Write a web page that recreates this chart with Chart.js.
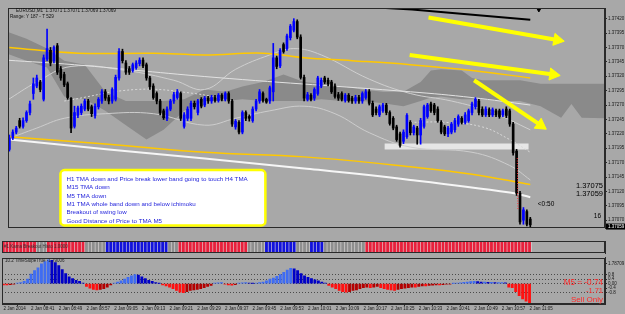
<!DOCTYPE html>
<html>
<head>
<meta charset="utf-8">
<script src="https://cdn.jsdelivr.net/npm/chart.js@4.4.1/dist/chart.umd.min.js"></script>
<style>
body { margin: 0; background: #a8a8a8; }
#wrap { position: relative; width: 625px; height: 314px; overflow: hidden; background: #a8a8a8; }
canvas { position: absolute; left: 0; }
</style>
</head>
<body>
<div id="wrap">
  <canvas id="mainChart" width="625" height="236" style="top:0"></canvas>
  <canvas id="stripChart" width="625" height="18" style="top:236px"></canvas>
  <canvas id="slopeChart" width="625" height="60" style="top:254px"></canvas>
</div>
<script>
// EURUSD M1, prices kept as points above 1.37000
const openPts = [193,213,223,243,233,243,257,290,303,310, 280,350,365,347,373,333,323,307,282,233,
  252,257,263,277,267,252,267,277,293,283, 277,280,317,363,343,333,330,335,342,348,
  340,317,303,290,277,260,247,263,277,283, 290,233,247,247,273,257,280,270,282,277,
  283,278,287,280,290,277,232,240,223,257, 250,243,263,277,290,280,277,293,352,338,
  375,368,387,400,415,388,318,280,287,282, 290,303,317,313,310,303,288,290,278,287,
  282,277,283,277,283,293,273,263,253,260, 270,257,247,232,220,207,215,240,222,230,
  218,233,250,272,270,263,240,232,220,223, 227,237,247,240,243,257,267,277,263,253,
  262,253,260,260,253,263,260,237,190,117, 70,85,72];
const highPts = [218,227,233,247,248,260,277,317,322,313, 357,402,370,373,377,337,327,310,283,268,
  268,272,280,280,270,272,283,297,297,287, 300,322,368,367,347,337,343,347,352,352,
  343,320,307,293,280,263,267,280,292,297, 293,257,267,277,277,280,283,285,285,287,
  287,290,290,293,293,280,245,243,260,260, 253,267,280,297,293,282,303,377,355,368,
  378,393,410,420,418,392,322,292,290,300, 320,317,320,317,313,307,292,293,290,290,
  285,287,287,293,297,297,277,267,270,273, 273,260,250,235,223,227,255,243,235,233,
  247,270,273,275,273,267,243,235,233,240, 247,253,250,257,263,275,283,280,267,267,
  265,265,263,263,263,267,263,240,193,120, 92,88,75];
const lowPts = [190,210,220,230,230,240,253,280,300,293, 277,347,338,343,323,313,302,280,222,230,
  248,253,260,260,250,247,263,273,278,272, 273,277,313,343,323,323,327,332,338,335,
  313,297,280,272,253,245,243,260,273,280, 243,230,243,243,263,253,265,267,273,273,
  275,275,277,277,273,233,228,220,220,243, 242,240,260,273,275,273,273,277,333,335,
  360,365,383,397,385,315,277,277,277,278, 287,300,307,303,290,282,278,277,275,275,
  273,273,273,273,280,270,250,253,250,257, 253,235,227,207,197,203,212,218,218,202,
  202,230,247,257,253,240,220,217,215,220, 223,233,237,237,240,253,263,253,250,250,
  250,250,250,247,250,248,233,183,113,63, 63,60,50];
const closePts = [213,223,230,233,243,257,272,307,317,297, 352,368,343,370,327,317,305,283,230,257,
  265,268,277,263,255,268,280,293,282,277, 297,318,363,347,327,327,340,343,348,338,
  317,302,283,277,257,248,263,277,288,293, 247,253,263,273,267,277,268,282,277,283,
  278,287,280,290,277,237,242,223,257,247, 247,263,277,293,278,275,300,352,337,365,
  363,390,407,415,388,318,282,288,280,297, 317,313,310,307,293,285,282,280,287,278,
  277,283,277,290,293,273,253,257,267,270, 257,238,230,210,200,223,252,222,232,218,
  243,267,270,260,257,243,223,220,230,237, 243,250,240,253,260,272,280,257,253,263,
  253,262,253,250,260,252,237,187,117,67, 88,63,62];

// overlay lines: bar index / points
const yellowUpX = [0, 20, 42, 57, 74, 86, 100, 117, 135, 152];
const yellowUpY = [370, 360, 360, 357, 360, 352, 347, 340, 330, 317];
const yellowLowX = [0, 29, 57, 86, 117, 135, 152];
const yellowLowY = [215, 202, 188, 180, 163, 150, 132];
const whiteTmaX = [0, 29, 57, 86, 117, 146, 152];
const whiteTmaY = [210, 193, 177, 160, 140, 118, 110];
const bandUpX = [-1, 19, 60, 117, 135, 152];
const bandUpY = [348, 340, 318, 293, 283, 270];
const bandMidX = [-1, 8, 18, 34, 48, 57, 66, 76, 83, 91, 105, 117, 129, 141, 152];
const bandMidY = [277, 310, 337, 330, 313, 297, 332, 357, 368, 357, 315, 290, 277, 257, 227];
const bandLowX = [-1, 8, 16, 28, 42, 57, 66, 76, 86, 95, 105, 117, 135, 146, 152];
const bandLowY = [210, 230, 247, 255, 255, 235, 247, 260, 268, 255, 222, 197, 188, 165, 140];
const dotsAX = [16, 37, 54, 65];
const dotsAY = [277, 297, 290, 277];
const dotsBX = [117, 127, 138, 146, 152];
const dotsBY = [240, 240, 232, 210, 188];
const cloudX = [-1, 5, 11, 16, 22, 28, 34, 40, 45, 51, 57, 63, 68, 74, 80, 86, 91, 97, 103, 109, 115,
  120, 123, 126, 132, 135, 138, 143, 149, 155, 161, 164, 167, 174];
const spanA = [398, 385, 368, 347, 340, 293, 277, 277, 277, 280, 297, 293, 302, 310, 323, 310, 307, 302, 297, 293, 293,
  310, 330, 332, 330, 317, 313, 313, 313, 307, 307, 307, 307, 307];
const spanB = [360, 347, 335, 285, 280, 260, 235, 210, 227, 260, 277, 277, 280, 277, 277, 277, 280, 277, 277, 273, 268,
  277, 283, 285, 280, 280, 280, 277, 277, 268, 248, 272, 248, 247];
const zoneX = [109.5, 151.5];
const zoneY = [198, 198];
const trendX = [106, 117.5, 152];
const trendY = [440, 436, 418];
const arrow1X = [122.3, 159.9], arrow1Y = [422, 383];
const arrow2X = [116.8, 158.7], arrow2Y = [357, 323];
const arrow3X = [135.6, 155], arrow3Y = [313, 235];
const priceTicks = [420, 395, 370, 345, 320, 295, 270, 245, 220, 195, 170, 145, 120, 95, 70];

const timeTicks = [0, 8, 16, 24, 32, 40, 48, 56, 64, 72, 80, 88, 96, 104, 112, 120, 128, 136, 144, 152];
const timeLabels = ['2 Jan 2014', '2 Jan 08:41', '2 Jan 08:49', '2 Jan 08:57', '2 Jan 09:05', '2 Jan 09:13',
  '2 Jan 09:21', '2 Jan 09:29', '2 Jan 09:37', '2 Jan 09:45', '2 Jan 09:53', '2 Jan 10:01', '2 Jan 10:09',
  '2 Jan 10:17', '2 Jan 10:25', '2 Jan 10:33', '2 Jan 10:41', '2 Jan 10:49', '2 Jan 10:57', '2 Jan 11:05'];

// Kama breakout states, run length: r red, g grey, b blue
const stripRuns = [['r',10],['g',3],['r',11],['g',6],['b',18],['g',3],['r',20],['g',5],['b',9],['g',4],['b',4],['g',12],['r',48]];

const slopeVals = [-0.1,-0.1,-0.08,-0.05, 0.05,0.1,0.2,0.4,0.85,1.15,1.4,1.75,1.95,2.1,
  2.05,1.85,1.6,1.25,0.9,0.6,0.45,0.3,0.2,0.05,
  -0.25,-0.4,-0.5,-0.55,-0.5,-0.45,-0.3,-0.1,0.05,0.15,
  0.25,0.4,0.55,0.7,0.8,0.75,0.6,0.45,0.3,0.2,
  0.1,0.03,-0.1,-0.2,-0.3,-0.45,-0.6,-0.75,-0.8,-0.7,
  -0.6,-0.55,-0.5,-0.45,-0.35,-0.25,-0.15,0.05,0.08,0.1,
  -0.05,-0.1,-0.12,-0.08,0.05,0.08,0.1,0.05,0.03,0.05,
  0.1,0.15,0.25,0.4,0.5,0.65,0.8,1.0,1.2,1.35,
  1.3,1.15,0.9,0.7,0.55,0.45,0.35,0.25,0.15,0.05,
  -0.15,-0.3,-0.45,-0.6,-0.7,-0.75,-0.7,-0.6,-0.55,-0.45,
  -0.35,-0.3,-0.35,-0.3,-0.25,-0.35,-0.45,-0.5,-0.55,-0.6,
  -0.5,-0.45,-0.4,-0.35,-0.3,-0.3,-0.25,-0.2,-0.2,-0.15,
  -0.12,-0.1,-0.1,-0.08,-0.05,-0.03,0.03,0.05,0.08,0.12,
  0.15,0.18,0.2,0.18,0.15,0.15,0.12,0.12,0.1,0.1,
  0.1,0.08,-0.3,-0.35,-0.7,-1.05,-1.35,-1.55,-1.71];
const slopeTicks = [1.78709, 0.8, 0.4, 0, -0.4, -0.8];
const slopeTickLabels = ['1.78709', '0.8', '0.4', '0.00', '-0.4', '-0.8'];
const slopeLevels = [0.8, 0.4, 0, -0.8];

const noteLines = [
  'H1 TMA down and Price break lower band going to touch H4 TMA',
  'M15 TMA down',
  'M5 TMA down',
  'M1 TMA whole band down and below ichimoku',
  'Breakout of swing low',
  'Good Distance of Price to TMA M5'
];

Chart.defaults.font.family = '"Liberation Sans", Arial, sans-serif';
Chart.defaults.animation = false;
Chart.defaults.plugins.legend.display = false;
Chart.defaults.plugins.tooltip.enabled = false;

const axisColor = '#2a2a2a';
const xRange = { type: 'linear', min: -0.4, max: 173.8, offset: false, grid: { offset: false } };
const fixWidth = s => { s.width = 20; };
const pts = (xs, ys) => xs.map((v, k) => ({ x: v, y: ys[k] }));
const fmtPrice = v => (1.37 + v / 100000).toFixed(5);

const framePlugin = {
  id: 'frame',
  afterDraw(chart) {
    const a = chart.chartArea, ctx = chart.ctx;
    ctx.save();
    ctx.strokeStyle = axisColor;
    ctx.lineWidth = 1;
    ctx.strokeRect(Math.round(a.left) + 0.5, Math.round(a.top) + 0.5,
      Math.round(a.right - a.left) - 1, Math.round(a.bottom - a.top) - 1);
    ctx.restore();
  }
};

const mainNotes = {
  id: 'mainNotes',
  afterDraw(chart) {
    const { ctx, chartArea: a, scales: { x, y } } = chart;
    ctx.save();
    ctx.textBaseline = 'middle';
    ctx.fillStyle = '#111';
    ctx.font = '4.6px "Liberation Sans"';
    ctx.fillText('EURUSD,M1  1.37071 1.37071 1.37069 1.37069', a.left + 8, a.top + 2.5);
    ctx.fillText('Range: Y 187 - T 529', a.left + 2, a.top + 8.5);

    const left = x.getPixelForValue(14.9), right = x.getPixelForValue(74.7);
    const top = y.getPixelForValue(157), bottom = y.getPixelForValue(61);
    ctx.beginPath();
    ctx.roundRect(left, top, right - left, bottom - top, 4);
    ctx.fillStyle = '#ffffff';
    ctx.fill();
    ctx.lineWidth = 2.5;
    ctx.strokeStyle = '#ffff00';
    ctx.stroke();
    ctx.font = '6.2px "Liberation Sans"';
    ctx.fillStyle = '#2626dc';
    noteLines.forEach((t, k) => ctx.fillText(t, left + 6, top + 9 + k * 8.4));

    ctx.fillStyle = '#000';
    ctx.font = '7.5px "Liberation Sans"';
    ctx.textAlign = 'right';
    ctx.fillText('1.37075', a.right - 2, 186);
    ctx.fillText('1.37059', a.right - 2, 193.5);
    ctx.font = '6.5px "Liberation Sans"';
    ctx.fillText('16', a.right - 4, 216);
    ctx.textAlign = 'left';
    ctx.fillText('<0:50', x.getPixelForValue(154.2), 204);

    // bid marker on the price axis
    const py = y.getPixelForValue(59);
    ctx.fillStyle = '#000';
    ctx.fillRect(a.right + 1, py - 3, 625 - a.right - 1, 6);
    ctx.fillStyle = '#fff';
    ctx.font = '4.5px "Liberation Sans"';
    ctx.fillText('1.37059', a.right + 3, py);
    ctx.restore();
  }
};

const candleColor = k => closePts[k] >= openPts[k] ? '#0000ff' : '#000000';
const lineSet = (xs, ys, color, width, order, extra) => Object.assign({
  type: 'line', data: pts(xs, ys), borderColor: color, borderWidth: width,
  pointRadius: 0, tension: 0.4, order: order
}, extra || {});
const arrowSet = (xs, ys, rot) => ({
  type: 'line', data: pts(xs, ys), borderColor: '#ffff00', borderWidth: 4,
  pointRadius: [0, 7], pointStyle: 'triangle', rotation: [0, rot],
  pointBackgroundColor: '#ffff00', pointBorderColor: '#ffff00', pointBorderWidth: 1, order: 1
});

new Chart(document.getElementById('mainChart'), {
  type: 'bar',
  data: {
    datasets: [
      lineSet(cloudX, spanA, 'rgba(0,0,0,0)', 0, 20, { tension: 0, fill: '+1', backgroundColor: '#8a8a8a' }),
      lineSet(cloudX, spanB, 'rgba(0,0,0,0)', 0, 19, { tension: 0 }),
      lineSet(zoneX, zoneY, 'rgba(236,236,236,0.9)', 6, 18, { tension: 0, borderCapStyle: 'butt' }),
      lineSet(bandUpX, bandUpY, '#e2e2e2', 1, 15),
      lineSet(bandMidX, bandMidY, '#cfcfcf', 1, 15),
      lineSet(bandLowX, bandLowY, '#cdcdcd', 1, 15),
      lineSet(dotsAX, dotsAY, '#d8d8d8', 1, 15, { borderDash: [2, 2] }),
      lineSet(dotsBX, dotsBY, '#d8d8d8', 1, 15, { borderDash: [2, 2] }),
      lineSet(yellowUpX, yellowUpY, '#ffc800', 1.5, 12),
      lineSet(yellowLowX, yellowLowY, '#ffc800', 1.5, 12),
      lineSet(whiteTmaX, whiteTmaY, '#f6f6f6', 2, 12),
      {
        data: openPts.map((o, k) => ({ x: k, y: [lowPts[k], highPts[k]] })),
        backgroundColor: openPts.map((o, k) => candleColor(k)),
        barThickness: 1, grouped: false, order: 5
      },
      {
        data: openPts.map((o, k) => ({ x: k, y: [o, closePts[k]] })),
        backgroundColor: openPts.map((o, k) => candleColor(k)),
        barThickness: 2, minBarLength: 1, grouped: false, order: 4
      },
      lineSet([148.2, 148.4], [178, 88], '#ff3030', 1, 3, { tension: 0, borderDash: [1, 1.5] }),
      lineSet(trendX, trendY, '#000000', 2, 2, { tension: 0 }),
      arrowSet(arrow1X, arrow1Y, 100),
      arrowSet(arrow2X, arrow2Y, 98),
      arrowSet(arrow3X, arrow3Y, 125),
      {
        type: 'scatter', data: [{ x: 154.5, y: 436 }], pointStyle: 'triangle', rotation: 180,
        pointRadius: 2.5, backgroundColor: '#000', borderColor: '#000', order: 1
      }
    ]
  },
  options: {
    responsive: false,
    layout: { padding: { left: 2, right: 0, top: 3, bottom: 4 } },
    scales: {
      x: Object.assign({}, xRange, { display: false }),
      y: {
        type: 'linear', position: 'right', min: 56.5, max: 438.5, beginAtZero: false,
        afterFit: fixWidth,
        afterBuildTicks: s => { s.ticks = priceTicks.map(v => ({ value: v })); },
        ticks: { callback: v => fmtPrice(v), font: { size: 4.5 }, color: '#1a1a1a', padding: 1, autoSkip: false },
        grid: { drawOnChartArea: false, drawTicks: true, tickLength: 2, color: axisColor },
        border: { display: true, color: axisColor }
      }
    }
  },
  plugins: [framePlugin, mainNotes]
});

// strip panel
const stripState = [];
stripRuns.forEach(([s, n]) => { for (let k = 0; k < n; k++) stripState.push(s); });
const stripColors = { r: '#e8203c', g: '#8e8e8e', b: '#1212dc' };

const stripNotes = {
  id: 'stripNotes',
  afterDraw(chart) {
    const { ctx, chartArea: a } = chart;
    ctx.save();
    ctx.font = '4.5px "Liberation Sans"';
    ctx.fillStyle = '#333';
    ctx.textBaseline = 'middle';
    ctx.fillText('#1 Kama Breakout Histo 1.0000', a.left + 2, (a.top + a.bottom) / 2);
    ctx.restore();
  }
};

new Chart(document.getElementById('stripChart'), {
  type: 'bar',
  data: {
    datasets: [
      {
        data: stripState.map((s, k) => ({ x: k, y: 1 })),
        backgroundColor: stripState.map(s => stripColors[s]),
        barThickness: 2.2, grouped: false, order: 1
      },
      {
        data: stripState.map((s, k) => ({ x: k, y: 1 })),
        backgroundColor: '#e0dcdc',
        barThickness: 3.5, grouped: false, order: 2
      }
    ]
  },
  options: {
    responsive: false,
    layout: { padding: { left: 2, right: 0, top: 5, bottom: 1 } },
    scales: {
      x: Object.assign({}, xRange, { display: false }),
      y: {
        type: 'linear', position: 'right', min: 0, max: 1, afterFit: fixWidth,
        ticks: { display: false },
        grid: { drawOnChartArea: false, drawTicks: false },
        border: { display: true, color: axisColor }
      }
    }
  },
  plugins: [framePlugin, stripNotes]
});

// TimeSlope histogram panel
const slopeColor = k => {
  const v = slopeVals[k], p = k > 0 ? slopeVals[k - 1] : v;
  if (v >= 0) return v >= p ? '#3f6cf2' : '#0000c8';
  return v <= p ? '#ff1010' : '#b40000';
};

const slopeNotes = {
  id: 'slopeNotes',
  afterDraw(chart) {
    const { ctx, chartArea: a } = chart;
    ctx.save();
    ctx.textBaseline = 'middle';
    ctx.font = '4.5px "Liberation Sans"';
    ctx.fillStyle = '#222';
    ctx.fillText('10.2 TimeSlopeTrue -1.79006', a.left + 3, a.top + 3.5);
    ctx.fillStyle = '#ff2a2a';
    ctx.textAlign = 'right';
    ctx.font = '8.2px "Liberation Sans"';
    ctx.fillText('M5 = -0.74', a.right - 2, 29);
    ctx.font = '7.5px "Liberation Sans"';
    ctx.fillText('-1.71', a.right - 2, 37);
    ctx.font = '8px "Liberation Sans"';
    ctx.fillText('Sell Only', a.right - 2, 46);
    ctx.restore();
  }
};

new Chart(document.getElementById('slopeChart'), {
  type: 'bar',
  data: {
    datasets: [{
      data: slopeVals.map((v, k) => ({ x: k, y: v })),
      backgroundColor: slopeVals.map((v, k) => slopeColor(k)),
      barThickness: 2.2
    }]
  },
  options: {
    responsive: false,
    layout: { padding: { left: 2, right: 0, top: 1, bottom: 0 } },
    scales: {
      x: Object.assign({}, xRange, {
        display: true,
        afterFit: s => { s.height = 10; },
        afterBuildTicks: s => { s.ticks = timeTicks.map(v => ({ value: v })); },
        ticks: {
          callback: (v, i) => timeLabels[i], align: 'start', autoSkip: false, maxRotation: 0,
          font: { size: 4.5 }, color: '#1a1a1a', padding: 0
        },
        grid: { drawOnChartArea: false, drawTicks: true, tickLength: 2, color: axisColor },
        border: { display: true, color: axisColor }
      }),
      y: {
        type: 'linear', position: 'right', min: -1.79, max: 2.29, beginAtZero: false,
        afterFit: fixWidth,
        afterBuildTicks: s => { s.ticks = slopeTicks.map(v => ({ value: v })); },
        ticks: { callback: (v, i) => slopeTickLabels[i], font: { size: 4.5 }, color: '#1a1a1a', padding: 1, autoSkip: false },
        grid: {
          drawOnChartArea: true, drawTicks: true, tickLength: 2, tickColor: axisColor,
          color: c => slopeLevels.includes(c.tick.value) ? '#4a4a4a' : 'rgba(0,0,0,0)'
        },
        border: { display: true, color: axisColor, dash: [1, 2] }
      }
    }
  },
  plugins: [framePlugin, slopeNotes]
});
</script>
</body>
</html>
